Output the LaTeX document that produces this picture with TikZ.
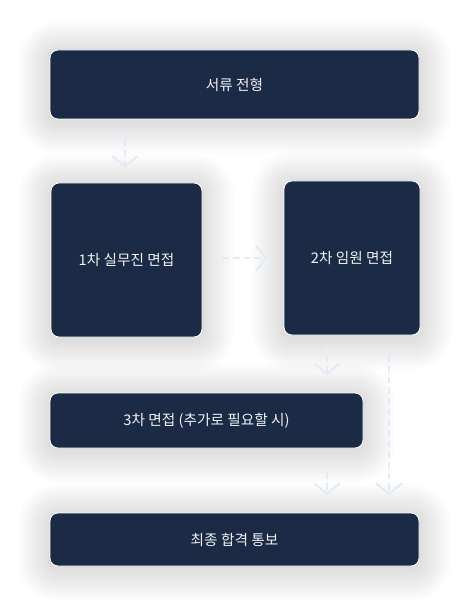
\documentclass[tikz,border=0pt]{standalone}
\usepackage{fontspec}
\setmainfont{Noto Sans CJK KR}
\usetikzlibrary{arrows.meta}
\definecolor{boxfill}{HTML}{1C2B45}
\definecolor{boxtext}{HTML}{EEF1F5}
\definecolor{flowline}{HTML}{E3ECF6}
\pgfdeclarelayer{bg}
\pgfdeclarelayer{halo}
\pgfsetlayers{bg,halo,main}
\tikzset{
  stepbox/.style={draw=white, line width=0.6pt, fill=boxfill, rounded corners=6pt,
    text=boxtext, font=\fontsize{11}{13}\selectfont, inner sep=0pt},
  haloring/.style={fill=black, fill opacity=0.0065},
  flow/.style={draw=flowline, line width=1.5pt, dash pattern=on 5pt off 3pt,
    -{Straight Barb[length=8pt,width=19pt,line width=1.5pt]}}
}
\newcommand{\boxhalo}[1]{%
  \begin{pgfonlayer}{halo}
  \foreach \d in {1,...,16}{
    \pgfmathsetmacro{\dd}{2*\d}
    \pgfmathsetmacro{\rr}{6+1.5*\d}
    \path[haloring, rounded corners=\rr pt]
      ([shift={(-\dd,\dd+3)}]#1.south west) rectangle ([shift={(\dd,-\dd+3)}]#1.north east);
  }
  \end{pgfonlayer}}
\begin{document}
\begin{tikzpicture}[x=0.75pt,y=-0.75pt]
\begin{pgfonlayer}{bg}
\fill[white] (0,0) rectangle (471,616);
\end{pgfonlayer}
\useasboundingbox (0,0) rectangle (471,616);
\node[stepbox, minimum width=276.75pt, minimum height=51.75pt] (b1) at (234.5,84.5) {서류 전형};
\node[stepbox, minimum width=113.25pt, minimum height=115.5pt] (b2) at (126.5,260) {1차 실무진 면접};
\node[stepbox, minimum width=102pt, minimum height=115.5pt] (b3) at (352,258) {2차 임원 면접};
\node[stepbox, minimum width=234.75pt, minimum height=41.25pt] (b4) at (206.5,420.5) {3차 면접 (추가로 필요할 시)};
\node[stepbox, minimum width=276.75pt, minimum height=39.75pt] (b5) at (234.5,539.5) {최종 합격 통보};
\boxhalo{b1}\boxhalo{b2}\boxhalo{b3}\boxhalo{b4}\boxhalo{b5}
\coordinate (c1) at (125,0);
\coordinate (c3) at (327,0);
\coordinate (c4) at (389,0);
\coordinate (r2) at (0,258);
\draw[flow, shorten <=7pt, shorten >=11pt] (b1.south -| c1) -- (b2.north -| c1);
\draw[flow, shorten <=15pt, shorten >=12pt] (b2.east |- r2) -- (b3.west |- r2);
\draw[flow, shorten <=7pt, shorten >=13pt] (b3.south -| c3) -- (b4.north -| c3);
\draw[flow, shorten <=7pt, shorten >=13pt] (b3.south -| c4) -- (b5.north -| c4);
\draw[flow, shorten <=10pt, shorten >=13pt] (b4.south -| c3) -- (b5.north -| c3);
\end{tikzpicture}
\end{document}
